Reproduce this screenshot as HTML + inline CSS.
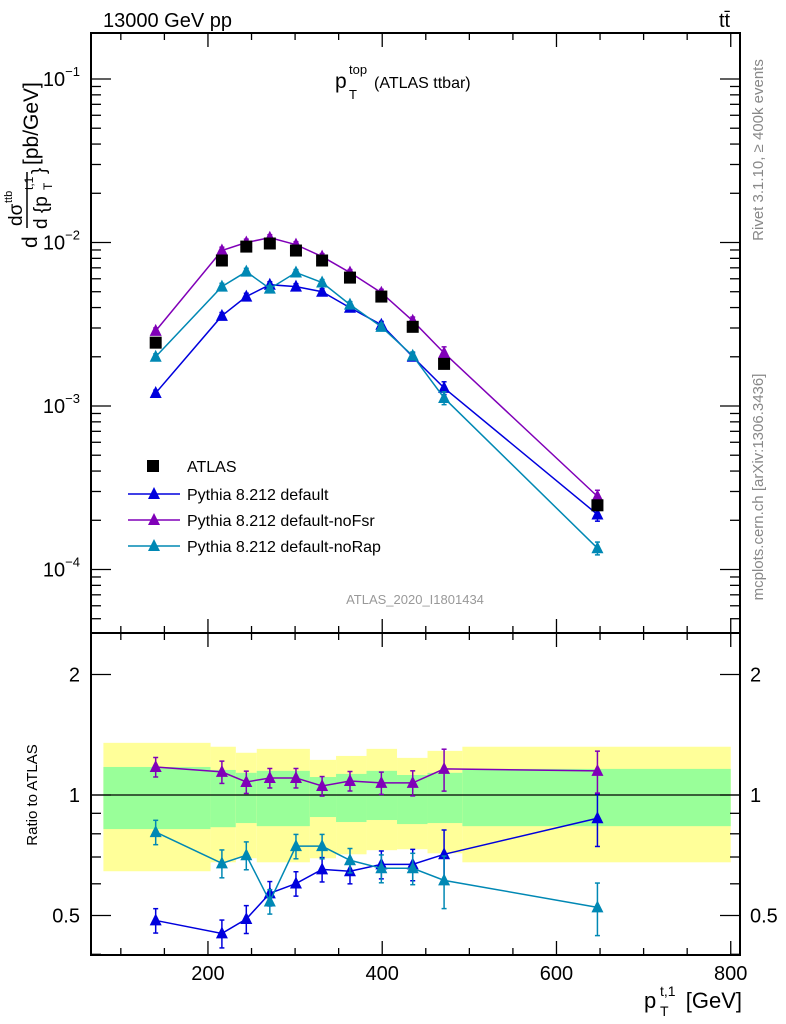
<!DOCTYPE html>
<html><head><meta charset="utf-8"><style>
body{margin:0;background:#fff;}
svg{display:block;font-family:"Liberation Sans",sans-serif;}
</style></head><body>
<svg id="c" width="786" height="1024" viewBox="0 0 786 1024" xmlns="http://www.w3.org/2000/svg">
<g id="bands"></g>
<g id="marks"></g>
<g id="axes"></g>
<text x="103" y="27" font-size="20">13000 GeV pp</text>
<text x="719" y="27" font-size="20">tt̄</text>
<g>
<text x="335" y="88" font-size="21">p</text>
<text x="349" y="74" font-size="13">top</text>
<text x="349" y="99" font-size="13">T</text>
<text x="374" y="88" font-size="16">(ATLAS ttbar)</text>
</g>
<text x="415" y="604" font-size="13" fill="#999" text-anchor="middle">ATLAS_2020_I1801434</text>
<text transform="translate(763,150) rotate(-90)" font-size="15" fill="#888" text-anchor="middle">Rivet 3.1.10, ≥ 400k events</text>
<text transform="translate(763,487) rotate(-90)" font-size="15" fill="#888" text-anchor="middle">mcplots.cern.ch [arXiv:1306.3436]</text>
<g transform="rotate(-90)">
<text x="-248" y="37" font-size="21">d</text>
<text x="-226" y="22" font-size="19">dσ</text>
<text x="-203" y="12" font-size="11">ttb</text>
<text x="-229" y="47" font-size="19">d {p</text>
<text x="-190" y="52" font-size="12">T</text>
<text x="-190" y="33" font-size="12">t,1</text>
<text x="-174" y="45" font-size="19">}</text>
<text x="-165" y="38" font-size="21">[pb/GeV]</text>
<line x1="-228" y1="27" x2="-172" y2="27" stroke="#000" stroke-width="1.5"/>
</g>
<text transform="translate(37,795) rotate(-90)" font-size="15" text-anchor="middle">Ratio to ATLAS</text>
<g>
<text x="644" y="1008" font-size="22">p</text>
<text x="660" y="996" font-size="14">t,1</text>
<text x="660" y="1016" font-size="14">T</text>
<text x="742" y="1008" font-size="22" text-anchor="end">[GeV]</text>
</g>
<g id="legend"></g>
</svg>
<script>
const xVals=[140,216,244,271,301,331,363,399,435,471,647];
const atlas=[2.44e-3,7.76e-3,9.44e-3,9.86e-3,8.93e-3,7.76e-3,6.1e-3,4.67e-3,3.05e-3,1.81e-3,2.47e-4];
const pyDefault=[1.2e-3,3.56e-3,4.67e-3,5.52e-3,5.37e-3,5.0e-3,3.99e-3,3.14e-3,2.0e-3,1.29e-3,2.17e-4];
const pyNoFsr=[2.88e-3,8.93e-3,1.0e-2,1.07e-2,9.7e-3,8.2e-3,6.55e-3,4.93e-3,3.32e-3,2.11e-3,2.8e-4];
const pyNoRap=[2.0e-3,5.37e-3,6.63e-3,5.22e-3,6.55e-3,5.69e-3,4.17e-3,3.05e-3,2.03e-3,1.12e-3,1.35e-4];
const ratioDefault=[0.486,0.451,0.490,0.568,0.601,0.652,0.645,0.671,0.671,0.711,0.875];
const ratioNoFsr=[1.175,1.142,1.078,1.103,1.103,1.053,1.084,1.072,1.072,1.162,1.149];
const ratioNoRap=[0.808,0.675,0.707,0.542,0.745,0.745,0.687,0.656,0.656,0.612,0.524];
const relErr=[0.07,0.08,0.08,0.07,0.07,0.07,0.07,0.08,0.09,0.15,0.15];
const binEdges=[80,203,232,256,317,347,382,417,452,492,800];
const yellowTop=[1.350,1.320,1.275,1.304,1.224,1.252,1.304,1.238,1.289,1.320];
const yellowBot=[0.645,0.679,0.695,0.679,0.695,0.711,0.728,0.732,0.715,0.679];
const greenTop=[1.175,1.155,1.136,1.149,1.109,1.129,1.149,1.122,1.136,1.162];
const greenBot=[0.822,0.831,0.851,0.836,0.881,0.856,0.866,0.846,0.851,0.836];
const xTicks=[200,400,600,800];
const mainTicks=[-1,-2,-3,-4];
const ratioTicks=[2,1,0.5];

const NS="http://www.w3.org/2000/svg";
const L=91,R=740,T=33,MB=633,B=955;
const X=v=>33.7+v*0.8713;
const YM=v=>79-(Math.log10(v)+1)*163.5;
const YR=v=>795-Math.log2(v)*120.5;
function el(tag,attrs,parent){const e=document.createElementNS(NS,tag);for(const k in attrs)e.setAttribute(k,attrs[k]);parent.appendChild(e);return e;}
const bands=document.getElementById('bands'),marks=document.getElementById('marks'),axes=document.getElementById('axes'),legend=document.getElementById('legend');

for(let i=0;i<binEdges.length-1;i++){
  const x1=X(binEdges[i]),x2=X(binEdges[i+1]);
  const y=el('rect',{x:x1,y:YR(yellowTop[i]),width:x2-x1,height:YR(yellowBot[i])-YR(yellowTop[i]),fill:'#ffff99'},bands);
  
  
  const g=el('rect',{x:x1,y:YR(greenTop[i]),width:x2-x1,height:YR(greenBot[i])-YR(greenTop[i]),fill:'#99ff99'},bands);
  
  
}
el('line',{x1:L,x2:R,y1:YR(1),y2:YR(1),stroke:'#000','stroke-width':1.3},bands);

function tri(x,y,c,p){return el('polygon',{points:`${x},${y-7} ${x-6},${y+5} ${x+6},${y+5}`,fill:c},p);}
function series(vals,Y,color,name,errs){
  const g=el('g',{},marks);
  
  
  el('polyline',{points:vals.map((v,i)=>X(xVals[i])+','+Y(v)).join(' '),fill:'none',stroke:color,'stroke-width':1.5},g);
  vals.forEach((v,i)=>{
    const x=X(xVals[i]),y1=Y(v*(1+errs[i])),y2=Y(v*(1-errs[i]));
    el('line',{x1:x,x2:x,y1:y1,y2:y2,stroke:color,'stroke-width':1.5},g);
    el('line',{x1:x-2.5,x2:x+2.5,y1:y1,y2:y1,stroke:color,'stroke-width':1.5},g);
    el('line',{x1:x-2.5,x2:x+2.5,y1:y2,y2:y2,stroke:color,'stroke-width':1.5},g);
    const t=tri(x,Y(v),color,g);
    
    
  });
}
const cB='#0000dd',cP='#8000b8',cT='#0088b4';
series(pyDefault,YM,cB,'series-default',relErr.map(e=>e*0.6));
series(pyNoFsr,YM,cP,'series-nofsr',relErr.map(e=>e*0.6));
series(pyNoRap,YM,cT,'series-norap',relErr.map(e=>e*0.6));
atlas.forEach((v,i)=>{
  const s=el('rect',{x:X(xVals[i])-6,y:YM(v)-6,width:12,height:12,fill:'#000'},marks);
  
  
});
series(ratioDefault,YR,cB,'ratio-default',relErr);
series(ratioNoFsr,YR,cP,'ratio-nofsr',relErr.map(e=>e*0.8));
series(ratioNoRap,YR,cT,'ratio-norap',relErr);

el('rect',{x:L,y:T,width:R-L,height:MB-T,fill:'none',stroke:'#000','stroke-width':2},axes);
el('rect',{x:L,y:MB,width:R-L,height:B-MB,fill:'none',stroke:'#000','stroke-width':2},axes);
for(let v=100;v<=800;v+=50){
  const x=X(v);if(x<L||x>R)continue;
  const len=(v%200===0)?14:7;
  [[T,T+len],[MB,MB-len],[MB,MB+len],[B,B-len]].forEach(([a,b])=>el('line',{x1:x,x2:x,y1:a,y2:b,stroke:'#000','stroke-width':1.3},axes));
}
xTicks.forEach(v=>{const t=el('text',{x:X(v),y:980,'font-size':20,'text-anchor':'middle'},axes);t.textContent=v;

});
for(let d=-5;d<=-1;d++){for(let m=1;m<10;m++){const v=m*Math.pow(10,d);const y=YM(v);if(y<T||y>MB)continue;
const len=m===1?20:10;el('line',{x1:L,x2:L+len,y1:y,y2:y,stroke:'#000','stroke-width':1.3},axes);el('line',{x1:R,x2:R-len,y1:y,y2:y,stroke:'#000','stroke-width':1.3},axes);}}
mainTicks.forEach(d=>{const t=el('text',{x:80,y:YM(Math.pow(10,d))+7,'font-size':20,'text-anchor':'end'},axes);
t.innerHTML='10<tspan font-size="13" dy="-10">'+('−'+(-d))+'</tspan>';

});
[0.4,0.5,0.6,0.7,0.8,0.9,1,2].forEach(v=>{const y=YR(v);const len=(v===0.5||v===1||v===2)?20:10;
el('line',{x1:L,x2:L+len,y1:y,y2:y,stroke:'#000','stroke-width':1.3},axes);el('line',{x1:R,x2:R-len,y1:y,y2:y,stroke:'#000','stroke-width':1.3},axes);});
ratioTicks.forEach(v=>{const a=el('text',{x:80,y:YR(v)+7,'font-size':20,'text-anchor':'end'},axes);a.textContent=v;


const b=el('text',{x:750,y:YR(v)+7,'font-size':20},axes);b.textContent=v;

});
const sq=el('rect',{x:147,y:460,width:12,height:12,fill:'#000'},legend);


const lt=el('text',{x:187,y:472,'font-size':16},legend);lt.textContent='ATLAS';


[[cB,'Pythia 8.212 default',494],[cP,'Pythia 8.212 default-noFsr',520],[cT,'Pythia 8.212 default-noRap',546]].forEach(([c,s,y])=>{
  el('line',{x1:128,x2:180,y1:y,y2:y,stroke:c,'stroke-width':1.5},legend);
  tri(154,y,c,legend);
  const t=el('text',{x:187,y:y+6,'font-size':16},legend);t.textContent=s;
  
  
});
</script>
</body></html>
